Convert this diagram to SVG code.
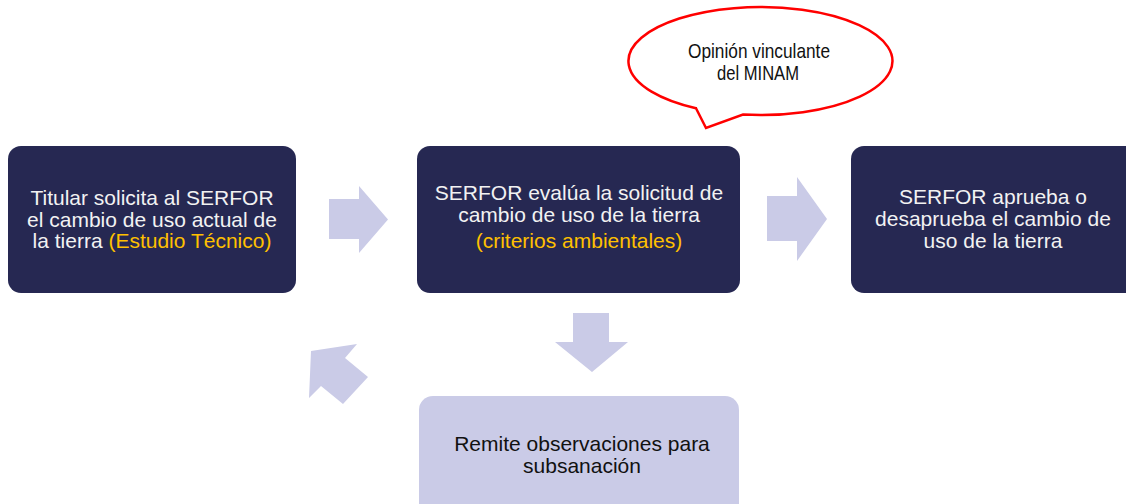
<svg xmlns="http://www.w3.org/2000/svg" width="1126" height="504" viewBox="0 0 1126 504">
<style>
.dark{fill:#262852}
.light{fill:#CACBE7}
.arrow{fill:#CACBE7}
.t{font-family:"Liberation Sans",Arial,sans-serif;font-size:21px;text-anchor:middle}
.w{fill:#F2F2F2}
.o{fill:#FFC000}
.b{fill:#111111}
.bal{font-family:"Liberation Sans",Arial,sans-serif;font-size:21px;text-anchor:middle;fill:#111111}
</style>
<rect width="1126" height="504" fill="#FFFFFF"/>
<g id="connectors">
<polygon class="arrow" points="329,199 359,199 359,186 388,219.5 359,253 359,239 329,239"/>
<polygon class="arrow" points="767,196 797,196 797,177 827,219 797,261 797,241 767,241"/>
<polygon class="arrow" points="573,313 609,313 609,342 628,342 592,372 555,342 573,342"/>
<polygon class="arrow" points="311,351 357,344 345,358 368,377 343,404 321,386 309,398"/>
</g>
<g id="node-titular">
<rect class="dark" x="8" y="146" width="288" height="147" rx="13"/>
<text class="t w" x="152" y="205">Titular solicita al SERFOR</text>
<text class="t w" x="152" y="227">el cambio de uso actual de</text>
<text class="t w" x="152" y="248">la tierra <tspan class="o">(Estudio Técnico)</tspan></text>
</g>
<g id="node-evalua">
<rect class="dark" x="417" y="146" width="323" height="147" rx="13"/>
<text class="t w" x="579" y="200">SERFOR evalúa la solicitud de</text>
<text class="t w" x="579" y="222">cambio de uso de la tierra</text>
<text class="t o" x="579" y="248">(criterios ambientales)</text>
</g>
<g id="node-aprueba">
<rect class="dark" x="851" y="146" width="290" height="147" rx="13"/>
<text class="t w" x="993" y="204">SERFOR aprueba o</text>
<text class="t w" x="993" y="226">desaprueba el cambio de</text>
<text class="t w" x="993" y="248">uso de la tierra</text>
</g>
<g id="node-remite">
<rect class="light" x="419" y="396" width="320" height="130" rx="14"/>
<text class="t b" x="582" y="451">Remite observaciones para</text>
<text class="t b" x="582" y="473">subsanación</text>
</g>
<g id="node-minam">
<path d="M 696,108.2 L 706,128 L 743,114.6 A 132 54 0 1 0 696,108.2 Z" fill="#FFFFFF" stroke="#FF0000" stroke-width="2.5" stroke-linejoin="miter"/>
<text class="bal" x="759" y="58" textLength="142" lengthAdjust="spacingAndGlyphs">Opinión vinculante</text>
<text class="bal" x="758" y="80" textLength="82" lengthAdjust="spacingAndGlyphs">del MINAM</text>
</g>
</svg>
